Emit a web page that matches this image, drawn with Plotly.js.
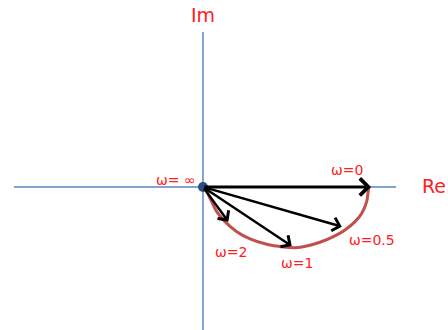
<!DOCTYPE html>
<html>
<head>
<meta charset="utf-8">
<script src="https://cdn.plot.ly/plotly-3.0.1.min.js"></script>
<style>html,body{margin:0;padding:0;background:#fff;}#chart{width:448px;height:330px;}</style>
</head>
<body>
<div id="chart"></div>
<script>
// Frequency points (arrow tips) of the Nyquist plot
const omegaLabels = ["ω=0", "ω=0.5", "ω=1", "ω=2"];
const tipRe = [1.0, 0.826, 0.528, 0.151];
const tipIm = [0.0, -0.331, -0.492, -0.289];

// Locus (red arc), ω from ∞ (origin) to 0
const arcRe = [0, 0.012, 0.042, 0.082, 0.131, 0.201, 0.280, 0.379, 0.478, 0.548, 0.617, 0.696, 0.776, 0.845, 0.905, 0.945, 0.974, 0.984, 0.988];
const arcIm = [0, -0.011, -0.094, -0.206, -0.289, -0.373, -0.433, -0.478, -0.5, -0.506, -0.492, -0.461, -0.414, -0.358, -0.289, -0.219, -0.122, -0.025, 0];

// Axes extent
const reAxisX = [-1.125, 1.149];
const reAxisY = [0, 0];
const imAxisX = [0, 0];
const imAxisY = [1.292, -1.25];

const originLabel = "ω= ∞";
const reLabel = "Re";
const imLabel = "Im";

const red = "#ff2020";
const labelFont = {family: "'DejaVu Sans', sans-serif", size: 14, color: red};
const axisFont = {family: "'DejaVu Sans', sans-serif", size: 19, color: red};

const traces = [
  {x: reAxisX, y: reAxisY, mode: "lines", line: {color: "#5b86c0", width: 1.5}, hoverinfo: "skip"},
  {x: imAxisX, y: imAxisY, mode: "lines", line: {color: "#5b86c0", width: 1.5}, hoverinfo: "skip"},
  {x: arcRe, y: arcIm, mode: "lines", line: {color: "#c0504d", width: 3, shape: "spline", smoothing: 1}, hoverinfo: "skip"},
  {x: [arcRe[0]], y: [arcIm[0]], mode: "markers", marker: {color: "#2c4d7e", size: 10}, hoverinfo: "skip"}
];

// label offsets in pixels relative to the arrow tips
const labelShift = [[-24, 17], [30, -13], [5, -17], [3, -30]];
const annotations = [];
omegaLabels.forEach((lab, i) => {
  annotations.push({
    x: tipRe[i], y: tipIm[i], ax: arcRe[0], ay: arcIm[0],
    xref: "x", yref: "y", axref: "x", ayref: "y",
    text: "", showarrow: true, arrowhead: 4, arrowsize: 1.1,
    arrowwidth: i === 0 ? 3 : 2.4, arrowcolor: "#000", standoff: 0, startstandoff: 0
  });
  annotations.push({
    x: tipRe[i], y: tipIm[i], xref: "x", yref: "y", text: lab, showarrow: false,
    xshift: labelShift[i][0], yshift: labelShift[i][1], font: labelFont
  });
});
annotations.push({x: arcRe[0], y: arcIm[0], xref: "x", yref: "y", text: originLabel, showarrow: false, xshift: -27, yshift: 7, font: labelFont});
annotations.push({x: reAxisX[1], y: reAxisY[1], xref: "x", yref: "y", text: reLabel, showarrow: false, xshift: 38, yshift: 1, font: axisFont});
annotations.push({x: imAxisX[0], y: imAxisY[0], xref: "x", yref: "y", text: imLabel, showarrow: false, xshift: 0, yshift: 17, font: axisFont});

const layout = {
  width: 448, height: 330,
  margin: {l: 0, r: 0, t: 0, b: 0},
  paper_bgcolor: "#fff", plot_bgcolor: "#fff",
  showlegend: false,
  xaxis: {range: [-1.208, 1.458], visible: false, fixedrange: true},
  yaxis: {range: [-1.192, 1.558], visible: false, fixedrange: true},
  annotations: annotations
};

Plotly.newPlot("chart", traces, layout, {staticPlot: true});
</script>
</body>
</html>
